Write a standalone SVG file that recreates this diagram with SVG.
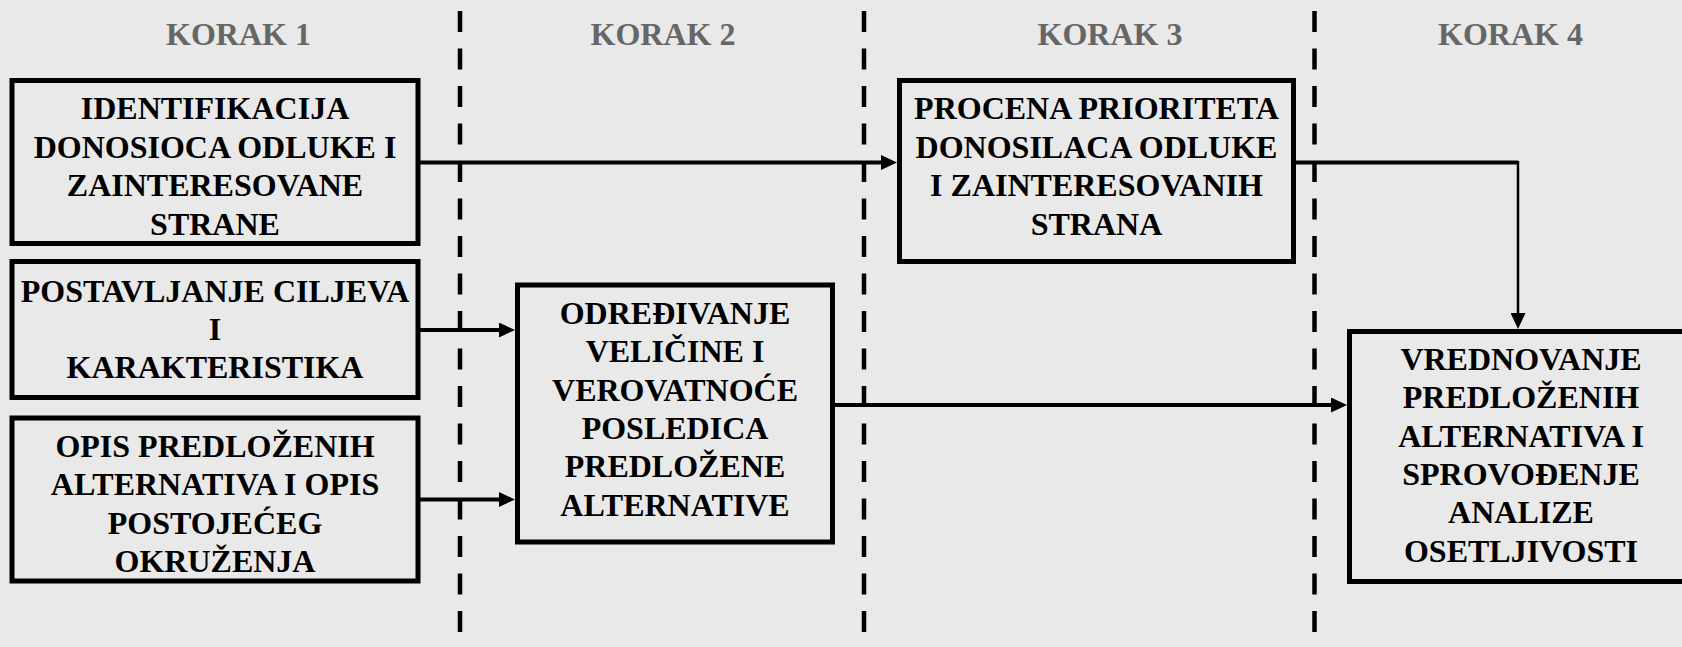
<svg xmlns="http://www.w3.org/2000/svg" width="1682" height="647" viewBox="0 0 1682 647">
<style>
.bg{fill:#e9e9e9}
.box{fill:#e9e9e9;stroke:#000;stroke-width:5}
.t{font-family:"Liberation Serif","Times New Roman",serif;font-weight:bold;font-size:32px;fill:#000;text-anchor:middle}
.h{font-family:"Liberation Serif","Times New Roman",serif;font-weight:bold;font-size:32px;fill:#666;text-anchor:middle}
.dash{stroke:#000;stroke-width:4.5;stroke-dasharray:21 16.5;fill:none}
.conn{stroke:#000;stroke-width:4;fill:none}
.thin{stroke:#000;stroke-width:2.5;fill:none}
</style>
<defs>
<marker id="ah" viewBox="0 0 16 15" refX="2" refY="7.5" markerWidth="16" markerHeight="15" markerUnits="userSpaceOnUse" orient="auto">
<path d="M0,0 L16,7.5 L0,15 Z" fill="#000"/>
</marker>
</defs>
<rect class="bg" x="0" y="0" width="1682" height="647"/>
<g id="headers">
<text class="h" x="238.5" y="45">KORAK 1</text>
<text class="h" x="663" y="45">KORAK 2</text>
<text class="h" x="1110" y="45">KORAK 3</text>
<text class="h" x="1510.5" y="45">KORAK 4</text>
</g>
<g id="dividers">
<line class="dash" x1="460" y1="11" x2="460" y2="647"/>
<line class="dash" x1="864" y1="11" x2="864" y2="647"/>
<line class="dash" x1="1314.5" y1="11" x2="1314.5" y2="647"/>
</g>
<g id="connectors">
<path class="conn" d="M420,162.5 H883" marker-end="url(#ah)"/>
<path class="conn" d="M420,330 H501" marker-end="url(#ah)"/>
<path class="conn" d="M420,499.5 H501" marker-end="url(#ah)"/>
<path class="conn" d="M835,405 H1333" marker-end="url(#ah)"/>
<path class="conn" d="M1295,162.5 H1518"/>
<path class="thin" d="M1518,161 V315" marker-end="url(#ah)"/>
</g>
<g id="n1">
<rect class="box" x="12" y="80.5" width="406" height="163"/>
<text class="t" x="215" y="119">IDENTIFIKACIJA</text>
<text class="t" x="215" y="157.5">DONOSIOCA ODLUKE I</text>
<text class="t" x="215" y="196">ZAINTERESOVANE</text>
<text class="t" x="215" y="234.5">STRANE</text>
</g>
<g id="n2">
<rect class="box" x="12" y="261.5" width="406" height="136"/>
<text class="t" x="215" y="301.5">POSTAVLJANJE CILJEVA</text>
<text class="t" x="215" y="339.5">I</text>
<text class="t" x="215" y="377.5">KARAKTERISTIKA</text>
</g>
<g id="n3">
<rect class="box" x="12" y="418" width="406" height="163"/>
<text class="t" x="215" y="456.5">OPIS PREDLOŽENIH</text>
<text class="t" x="215" y="495">ALTERNATIVA I OPIS</text>
<text class="t" x="215" y="533.5">POSTOJEĆEG</text>
<text class="t" x="215" y="571.5">OKRUŽENJA</text>
</g>
<g id="n4">
<rect class="box" x="517.5" y="285" width="315" height="257"/>
<text class="t" x="675" y="324">ODREĐIVANJE</text>
<text class="t" x="675" y="362.3">VELIČINE I</text>
<text class="t" x="675" y="400.6">VEROVATNOĆE</text>
<text class="t" x="675" y="438.9">POSLEDICA</text>
<text class="t" x="675" y="477.2">PREDLOŽENE</text>
<text class="t" x="675" y="515.5">ALTERNATIVE</text>
</g>
<g id="n5">
<rect class="box" x="899.5" y="80.5" width="394" height="181"/>
<text class="t" x="1096.5" y="119">PROCENA PRIORITETA</text>
<text class="t" x="1096.5" y="157.5">DONOSILACA ODLUKE</text>
<text class="t" x="1096.5" y="196">I ZAINTERESOVANIH</text>
<text class="t" x="1096.5" y="234.5">STRANA</text>
</g>
<g id="n6">
<rect class="box" x="1349.5" y="331.5" width="342" height="250"/>
<text class="t" x="1521" y="370">VREDNOVANJE</text>
<text class="t" x="1521" y="408.3">PREDLOŽENIH</text>
<text class="t" x="1521" y="446.6">ALTERNATIVA I</text>
<text class="t" x="1521" y="484.9">SPROVOĐENJE</text>
<text class="t" x="1521" y="523.2">ANALIZE</text>
<text class="t" x="1521" y="561.5">OSETLJIVOSTI</text>
</g>
</svg>
